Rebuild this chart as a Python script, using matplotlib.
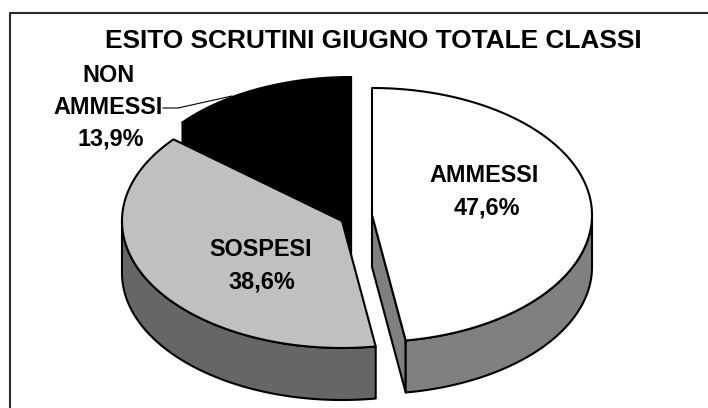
import numpy as np
import matplotlib
matplotlib.use('Agg')
import matplotlib.pyplot as plt

plt.rcParams['font.family'] = ['Liberation Sans', 'DejaVu Sans']

title = 'ESITO SCRUTINI GIUGNO TOTALE CLASSI'
names = ['AMMESSI', 'SOSPESI', 'NON\nAMMESSI']
values = [47.6, 38.6, 13.9]
top_colors = ['#ffffff', '#c0c0c0', '#000000']
side_colors = ['#808080', '#666666', '#000000']

# slice centres are shifted apart like in the exploded pie
centers = [(372, 215), (342, 221), (351, 204)]
RX, RY = 220, 127
DEPTH = 52
LW = 1.5
FS = 16.8


def point(c, ang, dy=0):
    # angle in degrees, clockwise from the top
    a = np.radians(ang)
    return c[0] + RX * np.sin(a), c[1] - RY * np.cos(a) + dy


def arc(c, a0, a1, dy=0):
    angs = np.linspace(a0, a1, 200)
    x, y = point(c, angs, dy)
    return list(x), list(y)


def shape(ax, xs, ys, color, z):
    ax.fill(xs, ys, facecolor=color, edgecolor='black', linewidth=LW, zorder=z, joinstyle='round')


def pct(v):
    return f'{v:.1f}%'.replace('.', ',')


fig = plt.figure(figsize=(7.08, 4.08), dpi=100)
ax = fig.add_axes([0, 0, 1, 1])
ax.set_xlim(0, 708)
ax.set_ylim(408, 0)
ax.axis('off')

# frame: only the top and left sides are in the picture
ax.plot([10, 10, 708], [408, 13, 13], color='#2a2a2a', lw=1.5, zorder=1)

total = sum(values)
starts = np.cumsum([0] + values[:-1]) / total * 360
ends = np.cumsum(values) / total * 360
# black first, then grey, white is on its own
for i in [2, 1, 0]:
    c = centers[i]
    a0, a1 = starts[i], ends[i]
    z = 10 + (2 - i) * 5

    # cut walls
    for a in (a0, a1):
        px, py = point(c, a)
        if (a < 180 and a == a1) or i == 2:
            shape(ax, [c[0], px, px, c[0]], [c[1], py, py + DEPTH, c[1] + DEPTH], side_colors[i], z)

    # outer wall, only the front half of the ellipse shows
    b0, b1 = max(a0, 90), min(a1, 270)
    if b1 > b0:
        x0, y0 = arc(c, b0, b1)
        x1, y1 = arc(c, b1, b0, DEPTH)
        shape(ax, x0 + x1, y0 + y1, side_colors[i], z + 1)

    # top face
    x, y = arc(c, a0, a1)
    shape(ax, [c[0]] + x, [c[1]] + y, top_colors[i], z + 2)

ax.text(484, 175, names[0], ha='center', va='center', fontsize=FS, fontweight='bold', zorder=40)
ax.text(487, 208, pct(values[0]), ha='center', va='center', fontsize=FS, fontweight='bold', zorder=40)
ax.text(261, 249, names[1], ha='center', va='center', fontsize=FS, fontweight='bold', zorder=40)
ax.text(262, 282, pct(values[1]), ha='center', va='center', fontsize=FS, fontweight='bold', zorder=40)

first, second = names[2].split('\n')
ax.text(109, 75, first, ha='center', va='center', fontsize=FS, fontweight='bold', zorder=40)
ax.text(108, 108, second, ha='center', va='center', fontsize=FS, fontweight='bold', zorder=40)
ax.text(111, 139, pct(values[2]), ha='center', va='center', fontsize=FS, fontweight='bold', zorder=40)
ax.plot([163, 178, 232], [108, 108, 96], color='black', lw=0.8, zorder=41)

ax.text(373, 41, title, ha='center', va='center', fontsize=18.9, fontweight='bold', zorder=40)

fig.savefig('out.png', dpi=100)
